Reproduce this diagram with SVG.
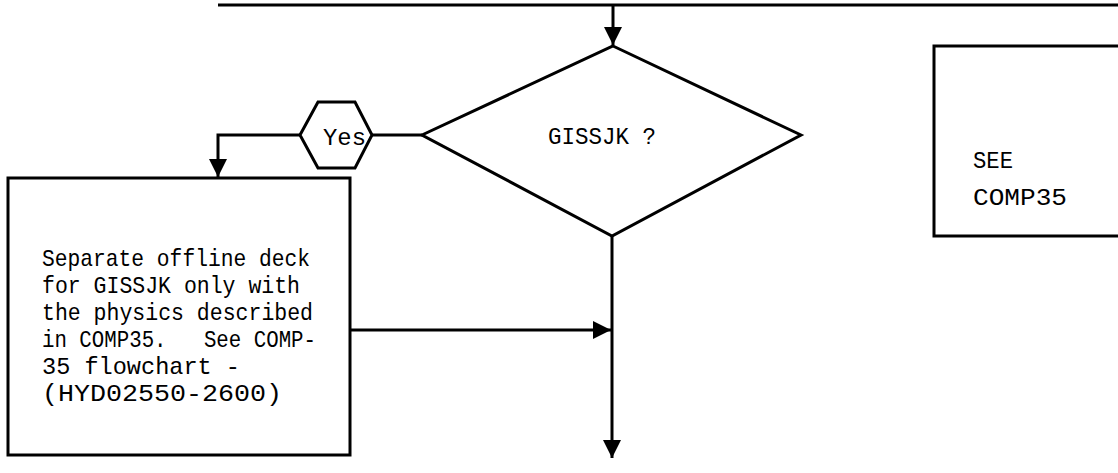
<svg xmlns="http://www.w3.org/2000/svg" width="1118" height="473" viewBox="0 0 1118 473">
<style>
.ln{fill:none;stroke:#000;stroke-width:3}
.sh{fill:#fff;stroke:#000;stroke-width:3}
.t{font-family:"Liberation Mono","DejaVu Sans Mono",monospace;font-size:24px;fill:#000;white-space:pre}
</style>
<defs>
<marker id="ah" viewBox="0 0 10 10" refX="10" refY="5" markerWidth="20" markerHeight="18" markerUnits="userSpaceOnUse" orient="auto">
<path d="M0,0 L10,5 L0,10 Z" fill="#000"/>
</marker>
</defs>
<rect width="1118" height="473" fill="#fff"/>
<g id="connectors">
<path class="ln" d="M218,5 H1118" stroke-width="4"/>
<path class="ln" d="M613,5 V45" marker-end="url(#ah)"/>
<path class="ln" d="M422,135 H372"/>
<path class="ln" d="M300,135 H218 V177" marker-end="url(#ah)"/>
<path class="ln" d="M350,330 H611" marker-end="url(#ah)"/>
<path class="ln" d="M612,236 V458" marker-end="url(#ah)"/>
</g>
<g id="decision">
<polygon class="sh" points="613,46 801,135 612,236 422,135"/>
<text class="t" x="548" y="144" textLength="108" lengthAdjust="spacingAndGlyphs">GISSJK ?</text>
</g>
<g id="yes">
<polygon class="sh" points="300,135 318,102 355,102 372,135 355,168 318,168"/>
<text class="t" x="323" y="145" textLength="43" lengthAdjust="spacingAndGlyphs">Yes</text>
</g>
<g id="offline">
<rect class="sh" x="8" y="178" width="342" height="277"/>
<text class="t" x="42" y="266" textLength="268" lengthAdjust="spacingAndGlyphs">Separate offline deck</text>
<text class="t" x="42" y="293" textLength="258" lengthAdjust="spacingAndGlyphs">for GISSJK only with</text>
<text class="t" x="42" y="320" textLength="271" lengthAdjust="spacingAndGlyphs">the physics described</text>
<text class="t" x="42" y="347" textLength="274" lengthAdjust="spacingAndGlyphs" xml:space="preserve">in COMP35.   See COMP-</text>
<text class="t" x="42" y="374" textLength="198" lengthAdjust="spacingAndGlyphs">35 flowchart -</text>
<text class="t" x="42" y="401" textLength="240" lengthAdjust="spacingAndGlyphs">(HYD02550-2600)</text>
</g>
<g id="see">
<path class="ln" d="M1118,46 H934 V236 H1118"/>
<text class="t" x="973" y="168" textLength="40" lengthAdjust="spacingAndGlyphs">SEE</text>
<text class="t" x="973" y="205" textLength="94" lengthAdjust="spacingAndGlyphs">COMP35</text>
</g>
</svg>
